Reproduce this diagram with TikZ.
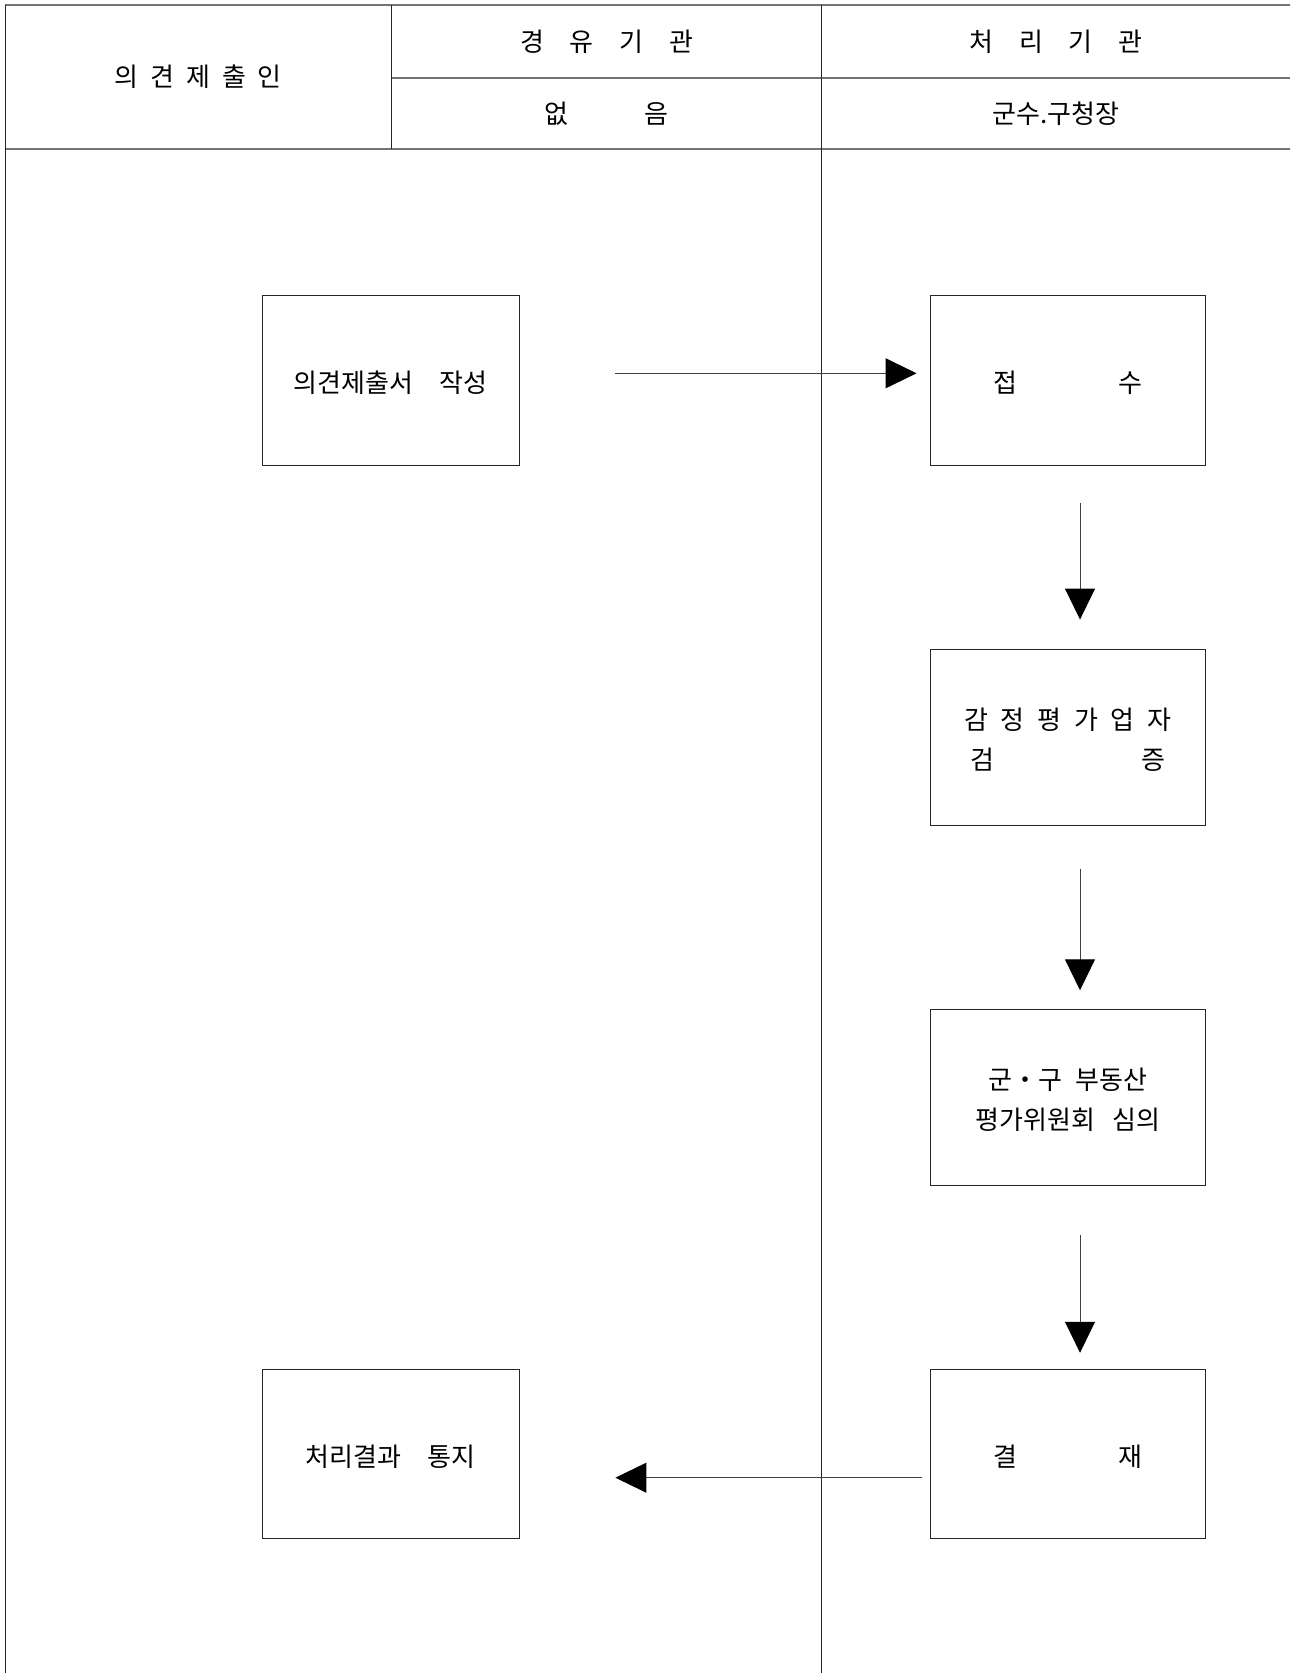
\documentclass[tikz,border=0pt]{standalone}
\usepackage{fontspec}
\setmainfont{Noto Sans CJK KR}
\usetikzlibrary{arrows.meta}
\begin{document}
\begin{tikzpicture}[x=1pt,y=-1pt,
  frame/.style={line width=0.9pt, black!85},
  hline/.style={line width=1.6pt, black!55},
  box/.style={draw=black!85, line width=0.9pt, inner sep=0pt},
  txt/.style={inner sep=0pt, font=\fontsize{26}{40.5}\selectfont, align=center, yshift=-2.5pt},
  lbl/.style={inner sep=0pt, font=\fontsize{26}{29}\selectfont},
  flow/.style={line width=1pt, black!75, -{Triangle[length=31pt,width=30pt,color=black]}}]
\useasboundingbox (0,0) rectangle (1290,1673);
\fill[white] (0,0) rectangle (1290,1673);
% frame
\draw[hline] (5,5) -- (1290,5);
\draw[hline] (391.6,78) -- (1290,78);
\draw[hline] (5,149) -- (1290,149);
\draw[frame] (5,5) -- (5,1673);
\draw[frame] (391.6,5) -- (391.6,149);
\draw[frame] (821.6,5) -- (821.6,1673);
% header texts
\node[lbl] (h1) at (198.3,77) {의\hspace{11.9pt}견\hspace{11.9pt}제\hspace{11.9pt}출\hspace{11.9pt}인};
\node[lbl] (h2) at (606.6,41.5) {경\hspace{25.7pt}유\hspace{25.7pt}기\hspace{25.7pt}관};
\node[lbl] (h3) at (606.6,113.5) {없\hspace{75.5pt}음};
\node[lbl] (h4) at (1055.8,41.5) {처\hspace{25.7pt}리\hspace{25.7pt}기\hspace{25.7pt}관};
\node[lbl] (h5) at (1055.8,113.5) {군수.구청장};
% boxes
\node[box, minimum width=257pt, minimum height=169.3pt] (b1) at (390.8,380.35) {};
\node[box, minimum width=274.3pt, minimum height=169.3pt] (b2) at (1067.85,380.35) {};
\node[box, minimum width=274.3pt, minimum height=175.7pt] (b3) at (1067.85,737.15) {};
\node[box, minimum width=274.3pt, minimum height=175.7pt] (b4) at (1067.85,1097.15) {};
\node[box, minimum width=274.3pt, minimum height=169pt] (b5) at (1067.85,1454.3) {};
\node[box, minimum width=257pt, minimum height=169pt] (b6) at (390.8,1454.3) {};
% box texts
\node[txt] (t1) at (b1) {의견제출서\hspace{26.4pt}작성};
\node[txt] (t2) at (b2) {접\hspace{101pt}수};
\node[txt] (t3) at (b3) {감\hspace{12.8pt}정\hspace{12.8pt}평\hspace{12.8pt}가\hspace{12.8pt}업\hspace{12.8pt}자\\검\hspace{147.7pt}증};
\node[txt] (t4) at (b4) {군・구\hspace{13pt}부동산\\평가위원회\hspace{16.7pt}심의};
\node[txt] (t5) at (b5) {결\hspace{101pt}재};
\node[txt] (t6) at (b6) {처리결과\hspace{26.2pt}통지};
% connectors
\draw[flow] ([xshift=95.2pt,yshift=7.05pt]b1.east) -- ([xshift=-13.7pt,yshift=7.05pt]b2.west);
\draw[flow] ([xshift=12.15pt,yshift=-37.3pt]b2.south) -- ([xshift=12.15pt,yshift=29.3pt]b3.north);
\draw[flow] ([xshift=12.15pt,yshift=-43.3pt]b3.south) -- ([xshift=12.15pt,yshift=18.6pt]b4.north);
\draw[flow] ([xshift=12.15pt,yshift=-49.3pt]b4.south) -- ([xshift=12.15pt,yshift=16.6pt]b5.north);
\draw[flow] ([xshift=-8pt,yshift=-23.4pt]b5.west) -- ([xshift=95.7pt,yshift=-23.4pt]b6.east);
\end{tikzpicture}
\end{document}
